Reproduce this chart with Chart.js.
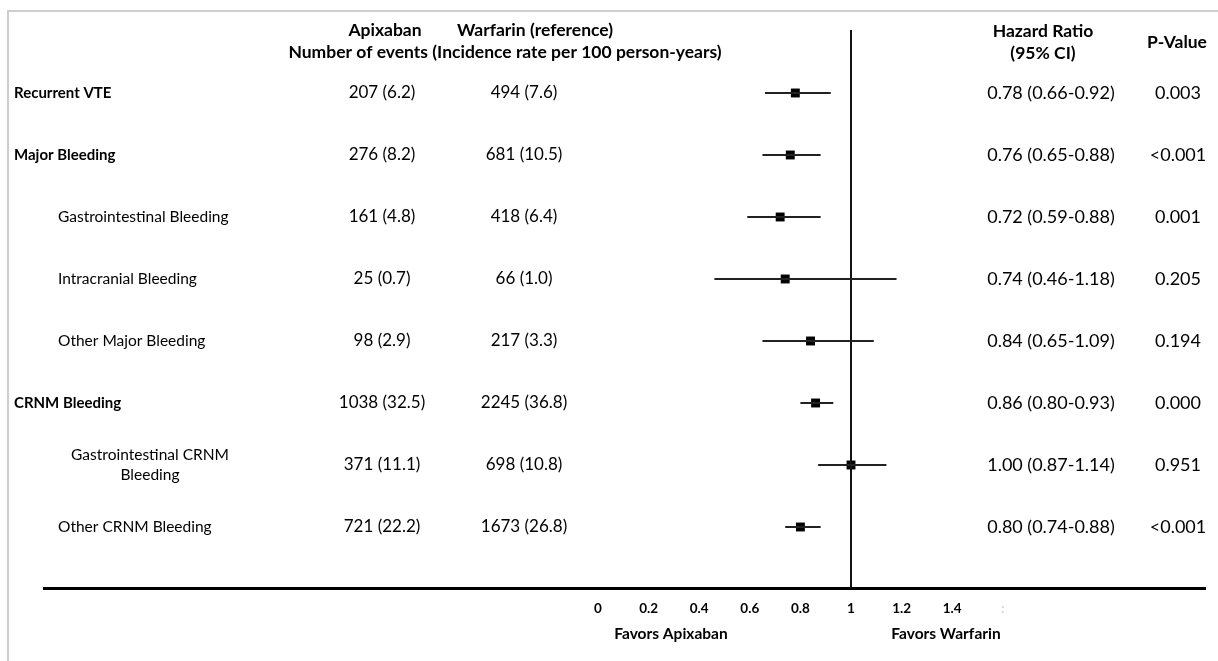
<!DOCTYPE html>
<html lang="en">
<head>
<meta charset="UTF-8">
<title>Apixaban vs Warfarin forest plot</title>
<script src="https://cdn.jsdelivr.net/npm/chart.js"></script>
<style>
  html, body {
    margin: 0;
    padding: 0;
    background: #fff;
  }
  .wrap {
    position: relative;
    width: 1218px;
    height: 661px;
  }
</style>
</head>
<body>
<div class="wrap">
  <canvas id="forest" width="1218" height="661"></canvas>
</div>
<script>
  // row data, top to bottom
  const outcomes = ['Recurrent VTE', 'Major Bleeding', 'Gastrointestinal Bleeding', 'Intracranial Bleeding',
    'Other Major Bleeding', 'CRNM Bleeding', 'Gastrointestinal CRNM|Bleeding', 'Other CRNM Bleeding'];
  const isMain = [true, true, false, false, false, true, false, false];
  const apixabanEvents = ['207 (6.2)', '276 (8.2)', '161 (4.8)', '25 (0.7)', '98 (2.9)', '1038 (32.5)', '371 (11.1)', '721 (22.2)'];
  const warfarinEvents = ['494 (7.6)', '681 (10.5)', '418 (6.4)', '66 (1.0)', '217 (3.3)', '2245 (36.8)', '698 (10.8)', '1673 (26.8)'];
  const hazardRatio = [0.78, 0.76, 0.72, 0.74, 0.84, 0.86, 1.00, 0.80];
  const ciLow = [0.66, 0.65, 0.59, 0.46, 0.65, 0.80, 0.87, 0.74];
  const ciHigh = [0.92, 0.88, 0.88, 1.18, 1.09, 0.93, 1.14, 0.88];
  const pValues = ['0.003', '<0.001', '0.001', '0.205', '0.194', '0.000', '0.951', '<0.001'];
  const xTicks = [0, 0.2, 0.4, 0.6, 0.8, 1, 1.2, 1.4, 1.6];

  const FONT = 'Lato, "Open Sans", sans-serif';
  const nRows = outcomes.length;

  const datasets = [];
  // confidence interval whiskers
  outcomes.forEach((name, i) => {
    datasets.push({
      type: 'line',
      data: [{ x: ciLow[i], y: i }, { x: ciHigh[i], y: i }],
      borderColor: '#222',
      borderWidth: 1.8,
      pointRadius: 0,
      fill: false
    });
  });
  // line of no effect
  datasets.push({
    type: 'line',
    data: [{ x: 1, y: -1.016 }, { x: 1, y: nRows - 0.016 }],
    borderColor: '#111',
    borderWidth: 2,
    pointRadius: 0,
    fill: false
  });
  // hazard ratio markers
  datasets.push({
    type: 'scatter',
    data: hazardRatio.map((v, i) => ({ x: v, y: i })),
    pointStyle: 'rect',
    pointRadius: 6.3,
    backgroundColor: '#000',
    borderColor: '#000',
    borderWidth: 0
  });

  const tablePlugin = {
    id: 'tableText',
    beforeDraw(chart) {
      const c = chart.ctx;
      c.save();
      c.fillStyle = '#fff';
      c.fillRect(0, 0, chart.width, chart.height);
      c.strokeStyle = '#cdcdcd';
      c.lineWidth = 2;
      c.beginPath();
      c.moveTo(8, chart.height);
      c.lineTo(8, 11);
      c.lineTo(chart.width, 11);
      c.stroke();
      c.restore();
    },
    afterDraw(chart) {
      const c = chart.ctx;
      const y = chart.scales.y;
      c.save();
      c.fillStyle = '#000';
      c.textBaseline = 'middle';

      // headers
      c.font = 'bold 17.5px ' + FONT;
      c.textAlign = 'center';
      c.fillText('Apixaban', 385, 30);
      c.fillText('Warfarin (reference)', 535, 30);
      c.fillText('Number of events (Incidence rate per 100 person-years)', 505, 52);
      c.fillText('Hazard Ratio', 1043, 31);
      c.fillText('(95% CI)', 1043, 53);
      c.fillText('P-Value', 1177, 42);

      outcomes.forEach((name, i) => {
        const py = y.getPixelForValue(i);
        const parts = name.split('|');
        if (isMain[i]) {
          c.font = 'bold 15px ' + FONT;
          c.textAlign = 'left';
          c.fillText(name, 14, py);
        } else if (parts.length > 1) {
          c.font = '15.5px ' + FONT;
          c.textAlign = 'center';
          c.fillText(parts[0], 150, py - 10);
          c.fillText(parts[1], 150, py + 10);
        } else {
          c.font = '15.5px ' + FONT;
          c.textAlign = 'left';
          c.fillText(name, 58, py);
        }
        c.font = '17px ' + FONT;
        c.textAlign = 'center';
        c.fillText(apixabanEvents[i], 382, py);
        c.fillText(warfarinEvents[i], 524, py);
        c.font = '18px ' + FONT;
        const hrText = hazardRatio[i].toFixed(2) + ' (' + ciLow[i].toFixed(2) + '-' + ciHigh[i].toFixed(2) + ')';
        c.fillText(hrText, 1051, py);
        c.fillText(pValues[i], 1178, py);
      });

      // favours labels under the axis
      c.font = 'bold 15.5px ' + FONT;
      c.textAlign = 'center';
      c.fillText('Favors Apixaban', 671, 634);
      c.fillText('Favors Warfarin', 946, 634);
      c.restore();
    }
  };

  new Chart(document.getElementById('forest'), {
    data: { datasets: datasets },
    options: {
      responsive: false,
      animation: false,
      layout: { padding: { left: 44, right: 13, top: 30, bottom: 0 } },
      plugins: {
        legend: { display: false },
        tooltip: { enabled: false }
      },
      scales: {
        x: {
          type: 'linear',
          min: -2.1897,
          max: 2.3992,
          afterBuildTicks: s => { s.ticks = xTicks.map(v => ({ value: v })); },
          afterFit: s => { s.height = 73; },
          grid: { display: false, drawTicks: false },
          border: { display: true, color: '#000', width: 3 },
          ticks: {
            autoSkip: false,
            maxRotation: 0,
            padding: 13,
            font: { family: FONT, size: 13.5, weight: 'bold' },
            color: ctx => (ctx.tick && ctx.tick.value === 1.6 ? '#d4d4d4' : '#000'),
            callback: v => (v === 1.6 ? ':' : String(Math.round(v * 10) / 10))
          }
        },
        y: {
          type: 'linear',
          display: false,
          reverse: true,
          min: -1.016,
          max: nRows - 0.016
        }
      }
    },
    plugins: [tablePlugin]
  });
</script>
</body>
</html>
